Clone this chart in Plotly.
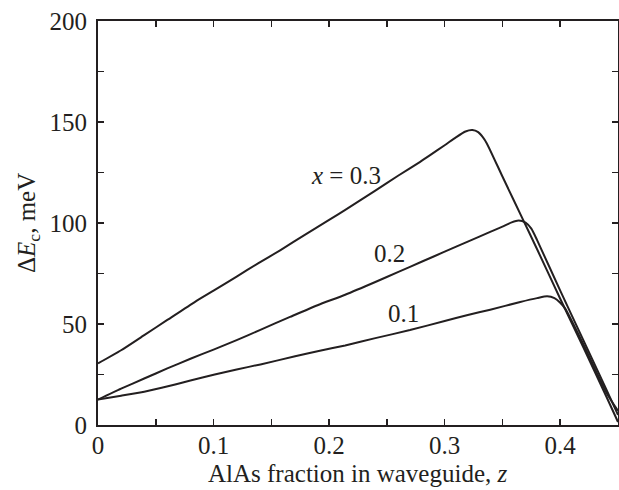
import plotly.graph_objects as go

# AlAs fraction in waveguide z, and band offset ΔEc (meV) for three x values
z_03 = [0, 0.02, 0.04, 0.06, 0.084, 0.10, 0.12, 0.1385, 0.1576, 0.18, 0.20, 0.214,
        0.24, 0.26, 0.2788, 0.2874, 0.30, 0.31, 0.318, 0.324, 0.329, 0.333, 0.3365,
        0.35, 0.368, 0.38, 0.40, 0.42, 0.44, 0.45]
e_03 = [30.5, 37, 44.5, 52, 61, 66.5, 73.5, 80, 86.5, 94.5, 101.5, 106.5,
        116, 123.5, 130.3, 133.6, 138.5, 142.5, 145.3, 146, 145, 142.5, 139.4,
        123, 101.4, 87, 62.5, 38.5, 14, 1.5]

z_02 = [0, 0.02, 0.04, 0.06, 0.08, 0.10, 0.12, 0.14, 0.1662, 0.19, 0.2139,
        0.24, 0.26, 0.28, 0.30, 0.32, 0.3394, 0.35, 0.358, 0.364, 0.37, 0.375, 0.38,
        0.40, 0.42, 0.44, 0.45]
e_02 = [12.6, 18, 23, 28, 32.8, 37.3, 42, 47, 53.5, 59.3, 64.5,
        70.8, 75.8, 80.8, 85.8, 90.8, 95.6, 98.2, 100.3, 101.2, 100.2, 97.2, 91.5,
        66.5, 42, 17.5, 5]

z_01 = [0, 0.02, 0.04, 0.0551, 0.08, 0.101, 0.12, 0.1406, 0.1706, 0.19, 0.2139, 0.24,
        0.27, 0.30, 0.32, 0.3394, 0.3654, 0.38, 0.3887, 0.395, 0.40, 0.4043, 0.42,
        0.44, 0.45]
e_01 = [12.6, 14.5, 16.5, 18.4, 22, 25, 27.5, 30, 34, 36.5, 39.4, 43,
        47, 51.5, 54.5, 57.1, 60.9, 62.8, 63.7, 62.8, 60.5, 57.6, 40,
        16, 7]

x_tickvals = [0, 0.05, 0.1, 0.15, 0.2, 0.25, 0.3, 0.35, 0.4, 0.45]
x_ticktext = ["0", "", "0.1", "", "0.2", "", "0.3", "", "0.4", ""]
y_tickvals = [0, 25, 50, 75, 100, 125, 150, 175, 200]
y_ticktext = ["0", "", "50", "", "100", "", "150", "", "200"]

labels = ["<i>x</i> = 0.3", "0.2", "0.1"]
label_z = [0.2147, 0.252, 0.264]
label_e = [123.6, 85, 55.3]

x_title = "AlAs fraction in waveguide, <i>z</i>"
y_title = "Δ<i>E</i><sub>c</sub>, meV"

ink = "#231f20"
font_family = "Liberation Serif, Times New Roman, serif"
fnt = dict(family=font_family, size=25, color=ink)

fig = go.Figure()
for zz, ee in [(z_03, e_03), (z_02, e_02), (z_01, e_01)]:
    fig.add_trace(go.Scatter(x=zz, y=ee, mode="lines",
                             line=dict(color=ink, width=2, shape="spline", smoothing=0.6),
                             showlegend=False, hoverinfo="skip", cliponaxis=True))

for t, xz, ye in zip(labels, label_z, label_e):
    fig.add_annotation(x=xz, y=ye, text=t, showarrow=False, font=fnt)

# axis titles
fig.add_annotation(xref="paper", yref="paper", x=0.5, y=0, yanchor="middle",
                   xanchor="center", yshift=-48, text=x_title, showarrow=False, font=fnt)
fig.add_annotation(xref="paper", yref="paper", x=0, y=0.5, xanchor="center",
                   yanchor="middle", xshift=-70, textangle=-90, text=y_title,
                   showarrow=False, font=fnt)

axis_common = dict(showgrid=False, zeroline=False, showline=True, linecolor=ink,
                   linewidth=2, mirror="ticks", ticks="inside", ticklen=6,
                   tickwidth=1.5, tickcolor=ink, automargin=False,
                   tickfont=fnt)

fig.update_xaxes(range=[0, 0.45], tickmode="array", tickvals=x_tickvals,
                 ticktext=x_ticktext, ticklabelstandoff=-3, **axis_common)
fig.update_yaxes(range=[0, 200], tickmode="array", tickvals=y_tickvals,
                 ticktext=y_ticktext, ticklabelstandoff=4, **axis_common)

fig.update_layout(template="none", width=619, height=490,
                  margin=dict(l=98, r=1, t=21, b=65, autoexpand=False),
                  paper_bgcolor="white", plot_bgcolor="white", showlegend=False)

# remove the default 8px page margin so the figure fills the window exactly
fig.write_html("out.html",
               config={"displayModeBar": False, "staticPlot": True},
               post_script="document.body.style.margin='0px';"
                           "document.body.style.overflow='hidden';")
